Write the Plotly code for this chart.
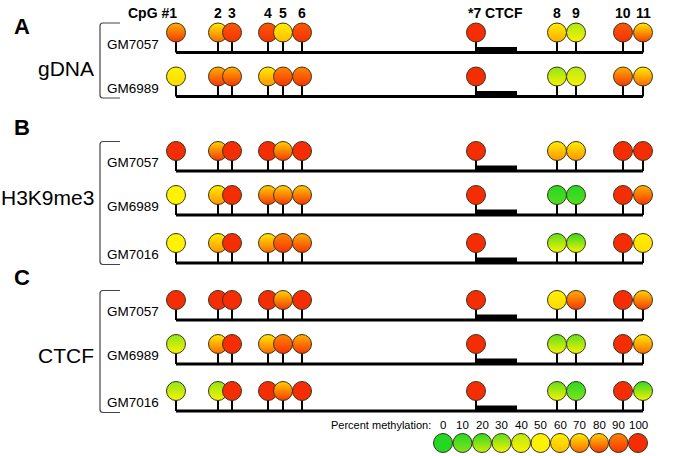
import plotly.graph_objects as go

# ---------------- data ----------------
cpg_labels = ["CpG #1", "2", "3", "4", "5", "6", "*7 CTCF", "8", "9", "10", "11"]
cpg_pos = [176, 218, 232, 268, 283, 302, 476, 557, 576, 623, 643]   # position along the region
ctcf_site = [476, 517]                                               # CTCF binding site span

groups = ["gDNA", "H3K9me3", "CTCF"]
panel_letters = ["A", "B", "C"]
group_samples = [["GM7057", "GM6989"],
                 ["GM7057", "GM6989", "GM7016"],
                 ["GM7057", "GM6989", "GM7016"]]

# percent methylation per CpG (#1..#11)
gDNA_GM7057 = [85, 70, 95, 95, 60, 95, 100, 62, 38, 95, 75]
gDNA_GM6989 = [55, 85, 85, 65, 90, 90, 100, 35, 40, 85, 70]
h3k9_GM7057 = [100, 80, 100, 100, 80, 100, 100, 65, 65, 100, 100]
h3k9_GM6989 = [50, 65, 100, 80, 80, 82, 100, 5, 5, 100, 85]
h3k9_GM7016 = [50, 65, 100, 70, 90, 85, 100, 30, 25, 100, 55]
ctcf_GM7057 = [100, 100, 100, 100, 80, 100, 100, 55, 85, 100, 80]
ctcf_GM6989 = [35, 70, 100, 70, 90, 85, 100, 30, 30, 100, 70]
ctcf_GM7016 = [35, 35, 100, 100, 80, 100, 100, 30, 10, 100, 25]

group_values = [[gDNA_GM7057, gDNA_GM6989],
                [h3k9_GM7057, h3k9_GM6989, h3k9_GM7016],
                [ctcf_GM7057, ctcf_GM6989, ctcf_GM7016]]

legend_title = "Percent methylation:"
legend_levels = [0, 10, 20, 30, 40, 50, 60, 70, 80, 90, 100]

# ---------------- styling / layout ----------------
W, H = 685, 456
row_lines = [[52.5, 96.5], [171, 215, 263], [320, 364, 411]]
letter_y = [26, 127, 277]
group_label_y = [68, 197, 355]
stem_len = 20
legend_x0, legend_dx, legend_y = 443, 19.5, 443

stops = [(0, (35, 215, 35)), (25, (160, 232, 25)), (50, (255, 242, 0)),
         (65, (255, 205, 0)), (80, (255, 140, 0)), (100, (245, 45, 5))]


def cmap(v):
    v = max(0, min(100, v))
    for (a, ca), (b, cb) in zip(stops[:-1], stops[1:]):
        if a <= v <= b:
            t = (v - a) / (b - a)
            c = [round(ca[i] + (cb[i] - ca[i]) * t) for i in range(3)]
            return "rgb(%d,%d,%d)" % tuple(c)
    return "rgb(%d,%d,%d)" % stops[-1][1]


def spread(v):
    m = v % 50
    return 22 * min(m, 50 - m) / 25


def top_col(v):
    return cmap(v - spread(v))


def bot_col(v):
    return cmap(v + spread(v))


fig = go.Figure()
shapes = []
annotations = []

font_main = "Liberation Sans, Arial, sans-serif"

for gi, grp in enumerate(groups):
    lines = row_lines[gi]
    for ri, sample in enumerate(group_samples[gi]):
        ly = lines[ri]
        vals = group_values[gi][ri]
        # baseline
        fig.add_trace(go.Scatter(x=[cpg_pos[0], cpg_pos[-1]], y=[ly, ly], mode="lines",
                                 line=dict(color="black", width=3), hoverinfo="skip",
                                 showlegend=False))
        # stems
        sx, sy = [], []
        for x in cpg_pos:
            sx += [x, x, None]
            sy += [ly - stem_len, ly, None]
        fig.add_trace(go.Scatter(x=sx, y=sy, mode="lines", line=dict(color="black", width=2),
                                 hoverinfo="skip", showlegend=False))
        # CTCF site box
        shapes.append(dict(type="rect", xref="x", yref="y", x0=ctcf_site[0], x1=ctcf_site[1],
                           y0=ly - 5.5, y1=ly, fillcolor="black", line=dict(width=0)))
        # lollipops
        fig.add_trace(go.Scatter(
            x=cpg_pos, y=[ly - stem_len] * len(cpg_pos), mode="markers",
            marker=dict(size=19, color=[top_col(v) for v in vals],
                        gradient=dict(type="vertical", color=[bot_col(v) for v in vals]),
                        line=dict(color="#3a3418", width=1)),
            text=[f"{sample} CpG {i+1}: {v}%" for i, v in enumerate(vals)],
            hoverinfo="text", showlegend=False))
        # sample label
        annotations.append(dict(x=105, y=ly - 8.5, xref="x", yref="y", text=sample,
                                showarrow=False, xanchor="left", yanchor="middle",
                                font=dict(family=font_main, size=13.5, color="black")))
    # bracket
    top = lines[0] - 29.5
    bot = lines[-1] + 1.5
    shapes.append(dict(type="path", xref="x", yref="y",
                       path=f"M 120 {top} L 103 {top} Q 100 {top} 100 {top+3} L 100 {bot-3} Q 100 {bot} 103 {bot} L 120 {bot}",
                       line=dict(color="#444", width=1.2)))
    # group label
    annotations.append(dict(x=96, y=group_label_y[gi], xref="x", yref="y", text=grp,
                            showarrow=False, xanchor="right", yanchor="middle",
                            font=dict(family=font_main, size=21, color="black")))
    # panel letter
    annotations.append(dict(x=12, y=letter_y[gi], xref="x", yref="y",
                            text="<b>%s</b>" % panel_letters[gi], showarrow=False,
                            xanchor="left", yanchor="middle",
                            font=dict(family=font_main, size=22, color="black")))

# CpG header labels
for i, (lab, x) in enumerate(zip(cpg_labels, cpg_pos)):
    if i == 0:
        xa, xx = "right", x + 3
    elif lab.startswith("*"):
        xa, xx = "left", x - 10
    else:
        xa, xx = "center", x
    annotations.append(dict(x=xx, y=13, xref="x", yref="y", text="<b>%s</b>" % lab,
                            showarrow=False, xanchor=xa, yanchor="middle",
                            font=dict(family=font_main, size=14, color="black")))

# methylation legend
lx = [legend_x0 + legend_dx * k for k in range(len(legend_levels))]
fig.add_trace(go.Scatter(
    x=lx, y=[legend_y] * len(lx), mode="markers",
    marker=dict(size=19, color=[top_col(v) for v in legend_levels],
                gradient=dict(type="vertical", color=[bot_col(v) for v in legend_levels]),
                line=dict(color="#3a3418", width=1)),
    hoverinfo="skip", showlegend=False))
for x, v in zip(lx, legend_levels):
    annotations.append(dict(x=x, y=legend_y - 18, xref="x", yref="y", text=str(v),
                            showarrow=False, xanchor="center", yanchor="middle",
                            font=dict(family=font_main, size=11.5, color="black")))
annotations.append(dict(x=433, y=legend_y - 18, xref="x", yref="y", text=legend_title,
                        showarrow=False, xanchor="right", yanchor="middle",
                        font=dict(family=font_main, size=11, color="black")))

fig.update_layout(
    width=W, height=H, margin=dict(l=0, r=0, t=0, b=0),
    paper_bgcolor="white", plot_bgcolor="white",
    xaxis=dict(range=[0, W], visible=False, fixedrange=True),
    yaxis=dict(range=[H, 0], visible=False, fixedrange=True),
    shapes=shapes, annotations=annotations, showlegend=False,
)

# remove the default 8px page margin so the figure fills the window exactly
fig.write_html("out.html",
               config={"displayModeBar": False},
               post_script="document.body.style.margin='0';document.body.style.overflow='hidden';")
